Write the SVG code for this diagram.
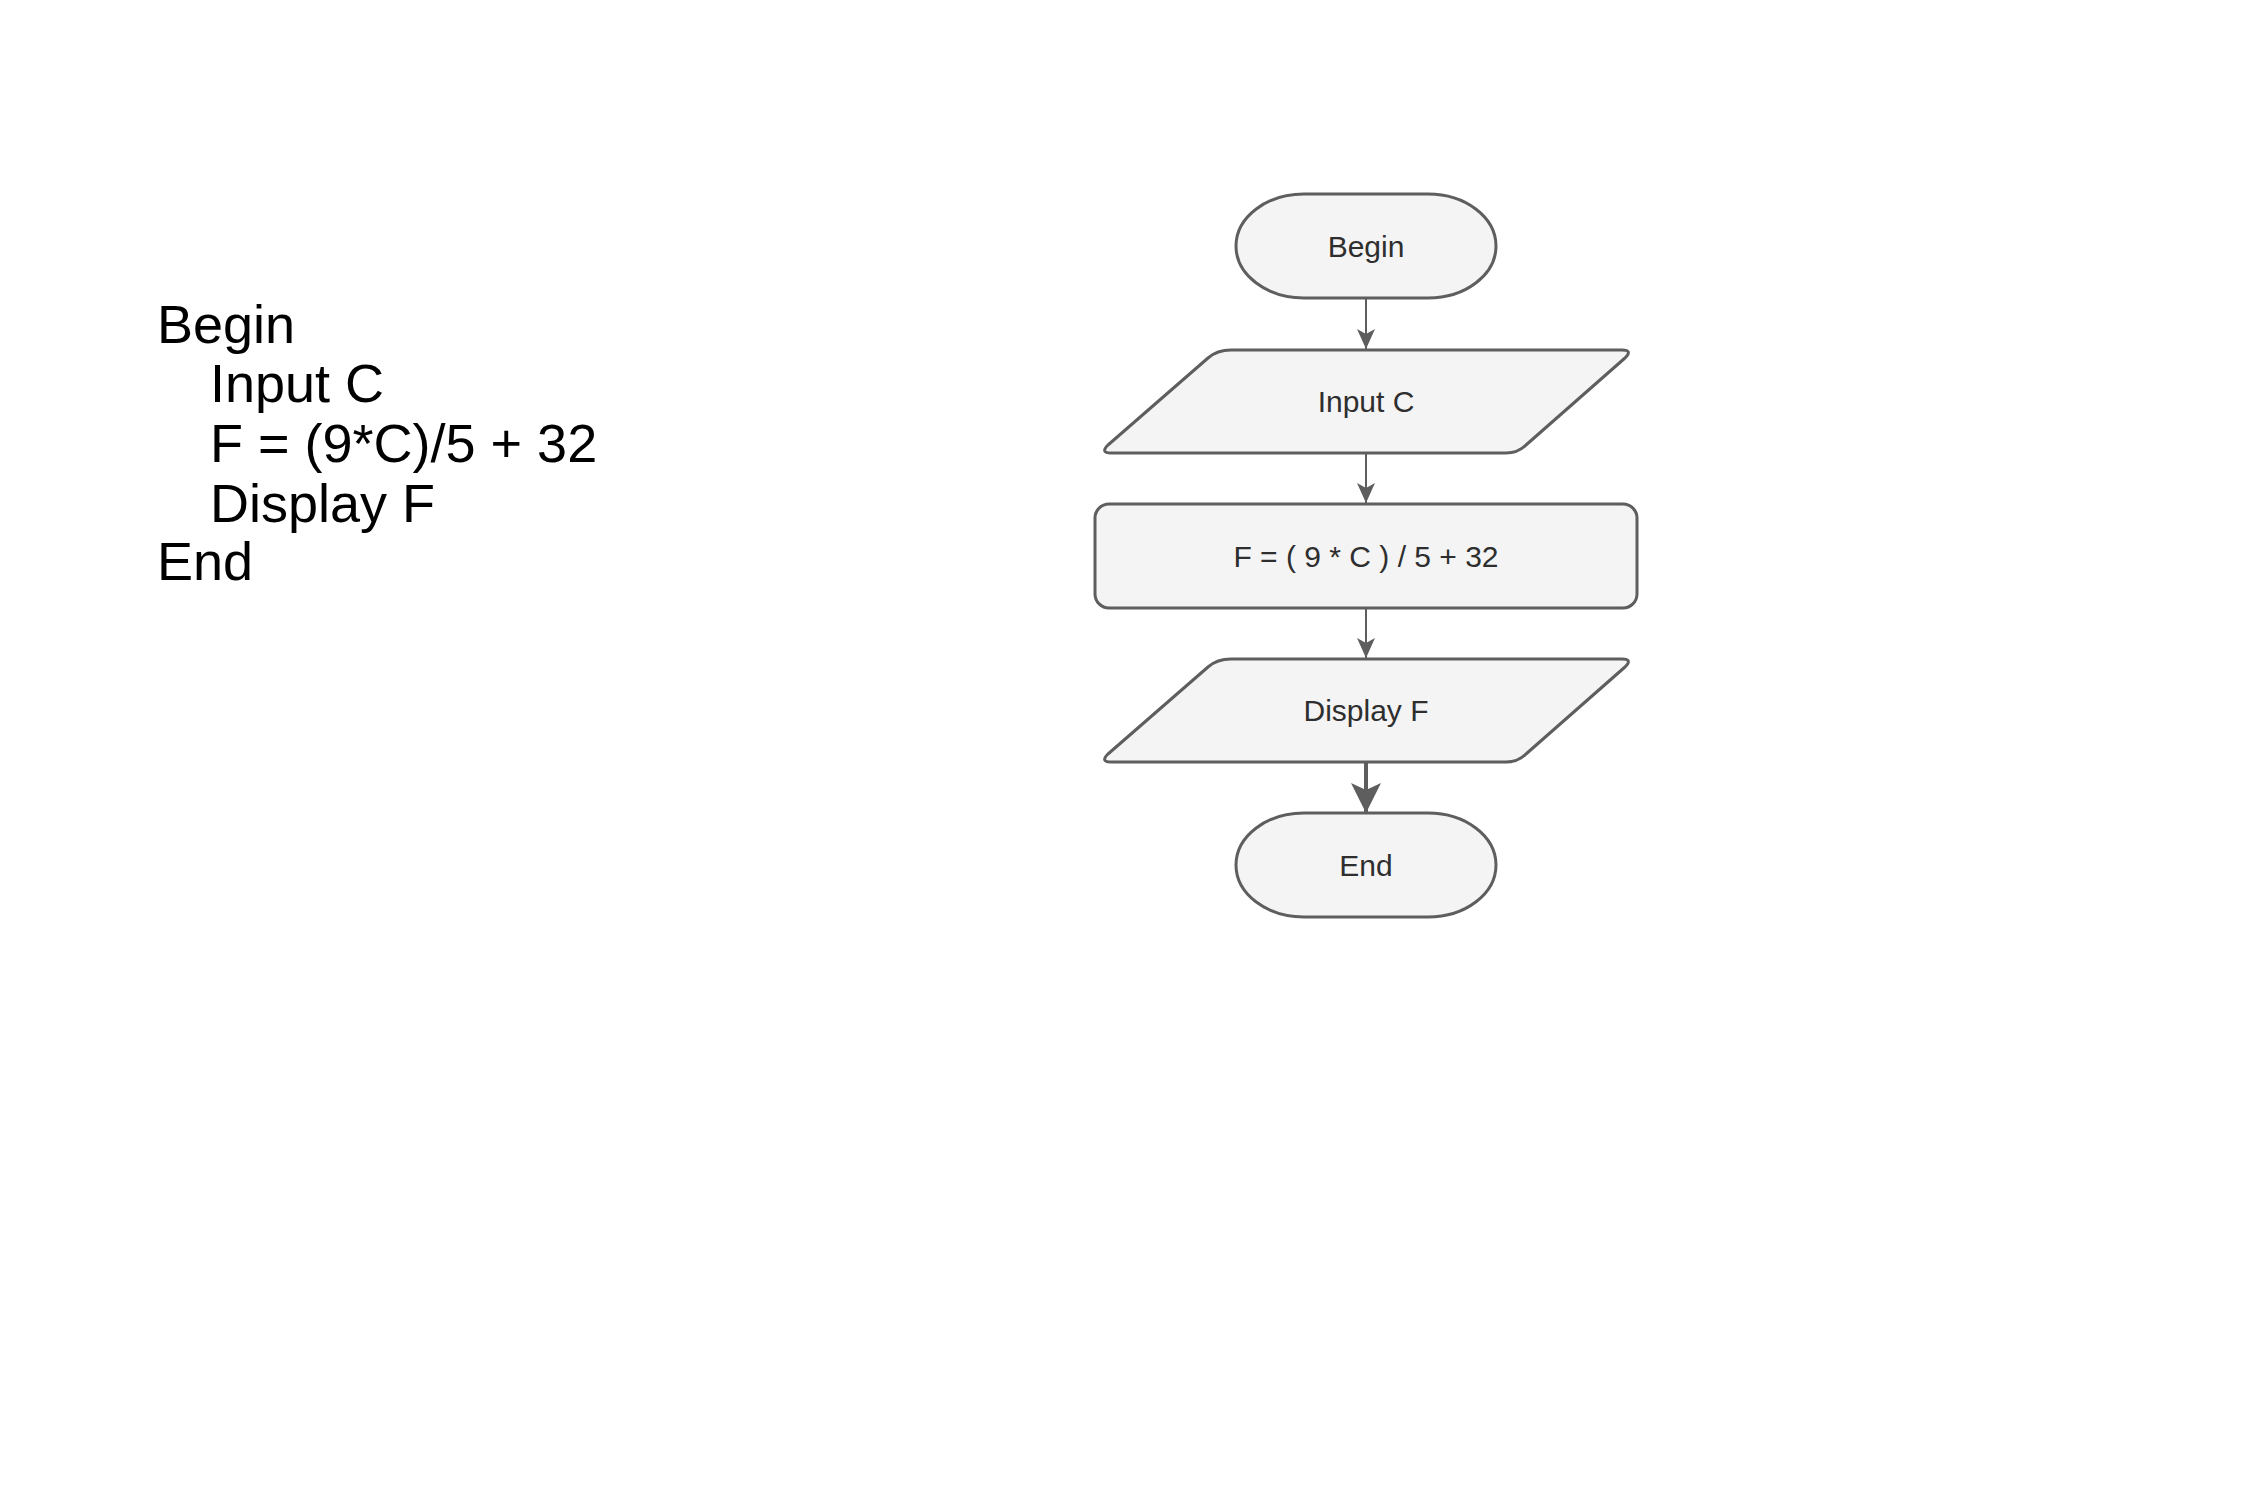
<svg xmlns="http://www.w3.org/2000/svg" width="2250" height="1500" viewBox="0 0 2250 1500">
<defs>
<style>
.shape{fill:#f4f4f4;stroke:#5e5e5e;stroke-width:3;stroke-linejoin:round}
.lbl{font-family:"Liberation Sans",Arial,sans-serif;font-size:30px;fill:#2e2e2e;text-anchor:middle}
.code{font-family:"Liberation Sans",Arial,sans-serif;font-size:54px;fill:#000}
.conn{stroke:#5e5e5e;stroke-width:2;fill:none}
.conn.thick{stroke-width:4}
</style>
<marker id="ah" viewBox="0 0 20 20" refX="20" refY="10" markerWidth="20" markerHeight="20" markerUnits="userSpaceOnUse" orient="auto">
<path d="M0,1 L20,10 L0,19 L5,10 Z" fill="#5e5e5e"/>
</marker>
<marker id="ahb" viewBox="0 0 30 32" refX="30" refY="16" markerWidth="30" markerHeight="32" markerUnits="userSpaceOnUse" orient="auto">
<path d="M0,1 L30,16 L0,31 L7,16 Z" fill="#5e5e5e"/>
</marker>
</defs>
<rect width="2250" height="1500" fill="#fff"/>
<g id="pseudocode">
<text class="code" x="157" y="343">Begin</text>
<text class="code" x="210" y="402">Input C</text>
<text class="code" x="210" y="462">F = (9*C)/5 + 32</text>
<text class="code" x="210" y="522">Display F</text>
<text class="code" x="157" y="580">End</text>
</g>
<g id="connectors">
<path class="conn" d="M1366,298 L1366,349" marker-end="url(#ah)"/>
<path class="conn" d="M1366,453 L1366,503" marker-end="url(#ah)"/>
<path class="conn" d="M1366,608 L1366,658" marker-end="url(#ah)"/>
<path class="conn thick" d="M1366,763 L1366,813" marker-end="url(#ahb)"/>
</g>
<g id="node-begin">
<rect class="shape" x="1236" y="194" width="260" height="104" rx="68" ry="52"/>
<text class="lbl" x="1366" y="257">Begin</text>
</g>
<g id="node-input">
<path class="shape" d="M1231,350 L1622,350 Q1633,350 1625,358 L1526,445 Q1518,453 1506,453 L1111,453 Q1100,453 1108,445 L1208,358 Q1217,350 1231,350 Z"/>
<text class="lbl" x="1366" y="412">Input C</text>
</g>
<g id="node-process">
<rect class="shape" x="1095" y="504" width="542" height="104" rx="14" ry="14"/>
<text class="lbl" x="1366" y="567">F = ( 9 * C ) / 5 + 32</text>
</g>
<g id="node-display">
<path class="shape" d="M1231,659 L1622,659 Q1633,659 1625,667 L1526,754 Q1518,762 1506,762 L1111,762 Q1100,762 1108,754 L1208,667 Q1217,659 1231,659 Z"/>
<text class="lbl" x="1366" y="721">Display F</text>
</g>
<g id="node-end">
<rect class="shape" x="1236" y="813" width="260" height="104" rx="68" ry="52"/>
<text class="lbl" x="1366" y="876">End</text>
</g>
</svg>
